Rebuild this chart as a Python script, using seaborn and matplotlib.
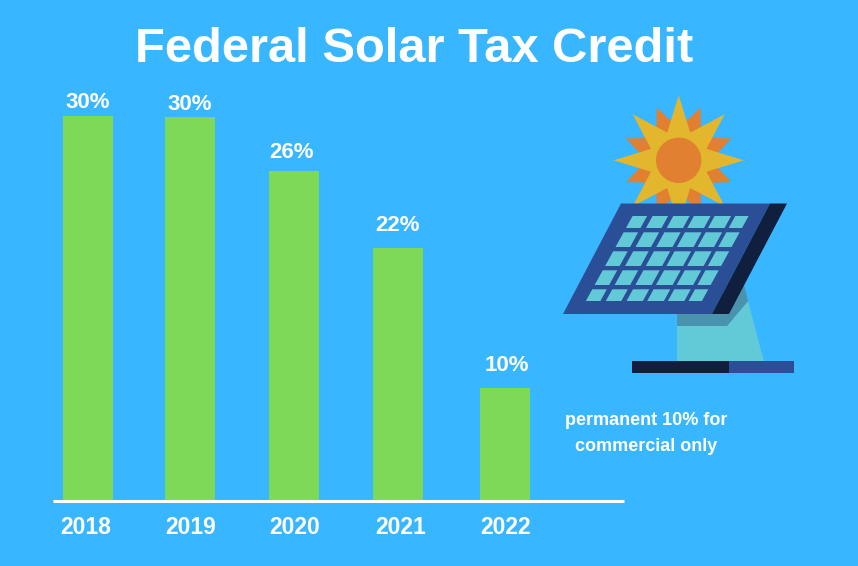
import numpy as np
import pandas as pd
import seaborn as sns
import matplotlib
matplotlib.use("Agg")
import matplotlib.pyplot as plt
from matplotlib.patches import Polygon, Circle, Rectangle

# values
years = ["2018", "2019", "2020", "2021", "2022"]
bar_heights = [30.05, 29.95, 25.75, 19.75, 8.8]
bar_labels = ["30%", "30%", "26%", "22%", "10%"]

BG = "#38B6FF"
GREEN = "#7ED957"
NAVY = "#0F1F3D"
BLUE = "#2B4F97"
TEAL = "#62C9D6"
SHADE = "#4A93AE"
YELLOW = "#E2B72E"
ORANGE = "#E08030"

W, H = 858, 566


def star(cx, cy, tips, r_out, r_in, start):
    pts = []
    for k in range(tips * 2):
        r = r_out if k % 2 == 0 else r_in
        a = np.radians(start + k * 180 / tips)
        pts.append((cx + r * np.sin(a), cy - r * np.cos(a)))
    return pts


def draw_illustration(ax):
    # sun
    ax.add_patch(Polygon(star(678.7, 160.3, 8, 57, 32, 22.5), color=ORANGE, lw=0))
    ax.add_patch(Polygon(star(678.7, 160.3, 8, 65, 30, 0), color=YELLOW, lw=0))
    ax.add_patch(Circle((678.7, 160.3), 22.7, color=ORANGE, lw=0))
    # stand
    ax.add_patch(Polygon([(677, 361.5), (764, 361.5), (748, 301), (727, 326), (677, 326)], color=TEAL, lw=0))
    ax.add_patch(Polygon([(677, 310), (677, 326), (727, 326), (748, 301), (744, 285)], color=SHADE, lw=0))
    ax.add_patch(Rectangle((632.3, 361.3), 96.7, 12, color=NAVY, lw=0))
    ax.add_patch(Rectangle((729, 361.3), 65, 12, color=BLUE, lw=0))
    # panel
    ax.add_patch(Polygon([(621, 203.5), (770, 203.5), (712, 314), (563, 314)], color=BLUE, lw=0))
    ax.add_patch(Polygon([(770, 203.5), (787, 203.5), (729, 314), (712, 314)], color=NAVY, lw=0))
    # panel cells, sheared grid
    col_start = [0, 20, 40.7, 61.3, 82, 102.7]
    col_end = [14.5, 35.5, 57, 78, 98.5, 116]
    rows = [(216, 228), (232.3, 247), (251.3, 266), (270.3, 285), (289.3, 301)]
    for top, bot in rows:
        for c0, c1 in zip(col_start, col_end):
            left_top = 626 - 0.55 * (top - 228)
            left_bot = 626 - 0.55 * (bot - 228)
            ax.add_patch(Polygon([(left_top + c0, top), (left_top + c1, top),
                                  (left_bot + c1, bot), (left_bot + c0, bot)], color=TEAL, lw=0))


sns.set_style("white")
plt.rcParams["font.family"] = ["Liberation Sans", "DejaVu Sans"]
plt.rcParams["font.weight"] = "bold"

fig = plt.figure(figsize=(W / 100, H / 100), dpi=100, facecolor=BG)

# bars axes: pixel box x 53..624, baseline at y=500.5
px_per_pct = 12.8
top_px = 60
ax = fig.add_axes([53 / W, 1 - 500.5 / H, (624 - 53) / W, (500.5 - top_px) / H])
ax.set_facecolor("none")

df = pd.DataFrame({"year": years, "height": bar_heights})
sns.barplot(data=df, x="year", y="height", color=GREEN, saturation=1, width=50 / 104, ax=ax)

step = 104
ax.set_xlim((53 - 88) / step, (624 - 88) / step)
ax.set_ylim(0, (500.5 - top_px) / px_per_pct)

# bars are not evenly spaced in the original
nudge = [0, -2, -2, -2, 1]
for bar, n in zip(ax.patches, nudge):
    bar.set_x(bar.get_x() + n / step)
    bar.set_linewidth(0)

label_shift = [0, 0, -2, 0, 2]
label_gap = [13, 13, 18, 22, 22]
for i, (bar, lab) in enumerate(zip(ax.patches, bar_labels)):
    xc = bar.get_x() + bar.get_width() / 2
    ax.annotate(lab, (xc, bar.get_height()), xytext=(label_shift[i] * 0.72, label_gap[i] * 0.72),
                textcoords="offset points", ha="center", va="center",
                color="white", fontsize=16, fontweight="bold")

tick_shift = [-2.5, -1.5, -1.5, 0.5, 1.5]
ax.set_xticks([i + s / step for i, s in enumerate(tick_shift)])
ax.set_xticklabels(years, color="white", fontsize=16.5, fontweight="bold")
ax.tick_params(axis="x", length=0, pad=11.5)
ax.set_yticks([])
ax.set_xlabel("")
ax.set_ylabel("")
sns.despine(ax=ax, left=True)
ax.spines["bottom"].set_color("white")
ax.spines["bottom"].set_linewidth(2.2)
ax.spines["bottom"].set_capstyle("butt")

# illustration layer in pixel units
ill = fig.add_axes([0, 0, 1, 1])
ill.set_xlim(0, W)
ill.set_ylim(H, 0)
ill.axis("off")
ill.patch.set_alpha(0)
draw_illustration(ill)

fig.text(414 / W, 1 - 50 / H, "Federal Solar Tax Credit", color="white", fontsize=35.2,
         fontweight="bold", ha="center", va="center")
fig.text(646.5 / W, 1 - 420.5 / H, "permanent 10% for", color="white", fontsize=13,
         fontweight="bold", ha="center", va="center")
fig.text(646.5 / W, 1 - 446.5 / H, "commercial only", color="white", fontsize=13,
         fontweight="bold", ha="center", va="center")

fig.savefig("out.png", dpi=100, facecolor=BG)
